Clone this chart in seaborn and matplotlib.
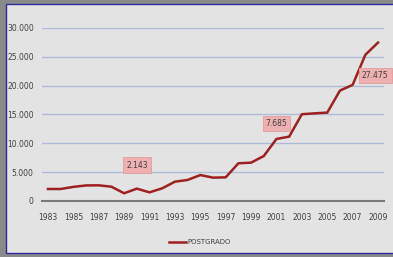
import pandas as pd
import matplotlib
matplotlib.use('Agg')
import matplotlib.pyplot as plt
import seaborn as sns
from matplotlib.patches import Rectangle
from matplotlib.ticker import FuncFormatter

# datos
years = list(range(1983, 2010))
postgrado = [2080, 2080, 2450, 2700, 2720, 2480, 1340, 2143, 1500, 2200,
             3350, 3650, 4500, 4050, 4100, 6540, 6650, 7800, 10760, 11160,
             15050, 15200, 15330, 19150, 20140, 25350, 27475]
label_years = [1990, 2001, 2009]
label_texts = ['2.143', '7.685', '27.475']

df = pd.DataFrame({'year': years, 'POSTGRADO': postgrado})

font = ['Liberation Sans Narrow', 'DejaVu Sans']
plt.rcParams['font.family'] = font

fig = plt.figure(figsize=(3.93, 2.57), dpi=100, facecolor='#8a8a8a')
# panel de fondo con borde azul
fig.patches.append(Rectangle((6 / 393, 4 / 257), 1.2, 249 / 257,
                             transform=fig.transFigure, facecolor='#e3e3e3',
                             edgecolor='#2b2b9a', linewidth=1.0, zorder=-10))

ax = fig.add_axes([42 / 393, 56 / 257, 342 / 393, 173 / 257])
ax.set_facecolor('none')

sns.lineplot(data=df, x='year', y='POSTGRADO', ax=ax, color='#9e2020',
             linewidth=1.8, label='POSTGRADO', legend=False)

ax.set_xlim(1982.53, 2009.47)
ax.set_ylim(0, 30000)
ax.set_xticks(years[::2])
ax.set_yticks(range(0, 30001, 5000))
ax.yaxis.set_major_formatter(FuncFormatter(lambda v, p: f'{int(v):,}'.replace(',', '.')))

for v in range(5000, 30001, 5000):
    ax.axhline(v, color='#aebbd8', linewidth=1.0, zorder=0)
ax.axhline(0, color='#7a7a7a', linewidth=1.5, zorder=1, clip_on=False)

for s in ax.spines.values():
    s.set_visible(False)
ax.tick_params(axis='both', length=0, labelsize=5.5, labelcolor='#404040')
ax.tick_params(axis='x', pad=9)
ax.tick_params(axis='y', pad=6)
ax.set_xlabel('')
ax.set_ylabel('')

offsets = [(0, 17), (0, 11), (-2, -24)]
for yr, txt, off in zip(label_years, label_texts, offsets):
    val = postgrado[years.index(yr)]
    ax.annotate(txt, (yr, val), xytext=off, textcoords='offset points',
                ha='center', va='center', fontsize=5.5, color='#404040',
                bbox=dict(boxstyle='square,pad=0.4', facecolor='#eeb0b0',
                          edgecolor='#e29c9c', linewidth=0.6))

h, l = ax.get_legend_handles_labels()
fig.legend(h, l, loc='center', bbox_to_anchor=(200 / 393, 1 - 242 / 257),
           frameon=False, fontsize=5, handlelength=2.4, handletextpad=0.3,
           labelcolor='#404040')

fig.savefig('out.png', dpi=100, facecolor=fig.get_facecolor())
